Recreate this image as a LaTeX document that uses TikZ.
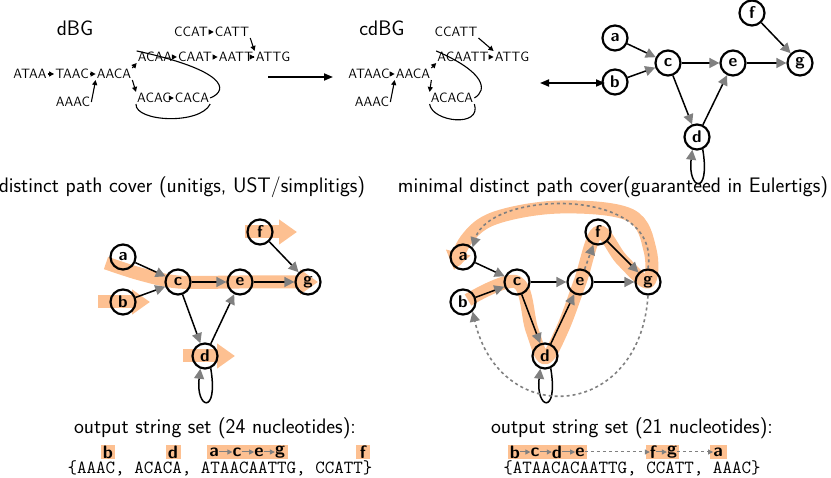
\documentclass[tikz,border=0pt]{standalone}
\usetikzlibrary{arrows.meta}
\definecolor{hl}{RGB}{253,192,145}
\begin{document}
\begin{tikzpicture}[x=1pt,y=-1pt,
  kmer/.style={font=\sffamily\fontsize{13.5}{14}\selectfont,inner sep=1pt},
  vtx/.style={circle,draw,line width=2.2pt,minimum size=25pt,inner sep=0pt,font=\sffamily\bfseries\fontsize{17}{17}\selectfont},
  ed/.style={line width=1.5pt,-{Triangle[color=gray,length=10pt,width=10pt]}},
  ked/.style={line width=1.1pt,-{Triangle[length=5pt,width=5pt]}},
  jump/.style={gray,line width=1.6pt,dashed,-{Triangle[length=10pt,width=10pt]}},
  hlp/.style={hl,line width=13pt,-{Triangle[length=18pt,width=24pt]}},
  ttl/.style={font=\sffamily\fontsize{21}{24}\selectfont},
  lab/.style={inner sep=0pt,font=\sffamily\bfseries\fontsize{18}{18}\selectfont},
  sm/.style={gray,line width=1pt,-{Triangle[length=5pt,width=5pt]}},
  smd/.style={gray,line width=1pt,dashed,-{Triangle[length=5pt,width=5pt]}}]
\useasboundingbox (0,0) rectangle (831,478);
% ---- dBG
\node[font=\sffamily\fontsize{21}{21}\selectfont] (t1) at (75,28) {dBG};
\node[kmer] (k1) at (30,74) {ATAA};
\node[kmer] (k2) at (72,74) {TAAC};
\node[kmer] (k3) at (114,74) {AACA};
\node[kmer] (k4) at (73,102) {AAAC};
\node[kmer] (k5) at (155,57) {ACAA};
\node[kmer] (k6) at (195,57) {CAAT};
\node[kmer] (k7) at (236,57) {AATT};
\node[kmer] (k8) at (273,57) {ATTG};
\node[kmer] (k9) at (191,32) {CCAT};
\node[kmer] (k10) at (232,32) {CATT};
\node[kmer] (k11) at (154,98) {ACAC};
\node[kmer] (k12) at (192,98) {CACA};
\draw[ked] (k1) -- (k2); \draw[ked] (k2) -- (k3);
\draw[ked] (k5) -- (k6); \draw[ked] (k6) -- (k7); \draw[ked] (k7) -- (k8);
\draw[ked] (k9) -- (k10); \draw[ked] (k10.south east) -- (k8.north west);
\draw[ked] (k11) -- (k12);
\draw[ked] (k4.east) -- (k3.south west);
\draw[ked] (k3.north east) -- (k5.south west);
\draw[ked] (k3.south east) -- (k11.north west);
\draw[line width=1.1pt] (k12.east) .. controls (230,90) and (225,70) .. (k5.north west);
\draw[line width=1.1pt] (k12.south east) .. controls (200,125) and (135,122) .. (k11.south west);
\draw[line width=1.8pt,-{Triangle[length=9pt,width=7pt]}] (268,77) -- (333,77);
% ---- cdBG
\node[font=\sffamily\fontsize{21}{21}\selectfont] (t2) at (382,28) {cdBG};
\node[kmer] (c1) at (369,74) {ATAAC};
\node[kmer] (c2) at (413,74) {AACA};
\node[kmer] (c3) at (372,102) {AAAC};
\node[kmer] (c4) at (463,57) {ACAATT};
\node[kmer] (c5) at (512,57) {ATTG};
\node[kmer] (c6) at (456,32) {CCATT};
\node[kmer] (c7) at (452,98) {ACACA};
\draw[ked] (c1) -- (c2); \draw[ked] (c4) -- (c5);
\draw[ked] (c6.south east) -- (c5.north west);
\draw[ked] (c3.east) -- (c2.south west);
\draw[ked] (c2.north east) -- (c4.south west);
\draw[ked] (c2.south east) -- (c7.north west);
\draw[line width=1.1pt] (c7.east) .. controls (488,90) and (485,72) .. (c4.north west);
\draw[line width=1.1pt] (c7.south east) .. controls (482,128) and (432,122) .. (c7.south west);
\draw[line width=1.8pt,{Triangle[length=9pt,width=7pt]}-{Triangle[length=9pt,width=7pt]}] (540,83) -- (605,83);
% ---- graph top right
\node[vtx] (a) at (615,38) {a};
\node[vtx] (b) at (615,82) {b};
\node[vtx] (c) at (668,63) {c};
\node[vtx] (e) at (733,63) {e};
\node[vtx] (g) at (800,63) {g};
\node[vtx] (f) at (752,13) {f};
\node[vtx] (d) at (697,137) {d};
\draw[ed] (a) -- (c); \draw[ed] (b) -- (c); \draw[ed] (c) -- (e);
\draw[ed] (e) -- (g); \draw[ed] (f) -- (g); \draw[ed] (c) -- (d); \draw[ed] (d) -- (e);
\draw[ed] (d.-65) .. controls +(8,48) and +(-5,40) .. (d.-110);
\node[ttl] (h1) at (182,187) {distinct path cover (unitigs, UST/simplitigs)};
\node[ttl] (h2) at (613,187) {minimal distinct path cover(guaranteed in Eulertigs)};
% ---- bottom left
\draw[hlp] plot[smooth] coordinates {(106,263) (140,274) (178,282) (240,282) (318,282)};
\draw[hlp] (98,302) -- (150,302);
\draw[hlp] (183,356) -- (235,356);
\draw[hlp] (245,232) -- (297,232);
\node[vtx] (a2) at (123,257) {a};
\node[vtx] (b2) at (123,302) {b};
\node[vtx] (c2) at (178,282) {c};
\node[vtx] (e2) at (240,282) {e};
\node[vtx] (g2) at (308,282) {g};
\node[vtx] (f2) at (260,232) {f};
\node[vtx] (d2) at (205,356) {d};
\draw[ed] (a2) -- (c2); \draw[ed] (b2) -- (c2); \draw[ed] (c2) -- (e2);
\draw[ed] (e2) -- (g2); \draw[ed] (f2) -- (g2); \draw[ed] (c2) -- (d2); \draw[ed] (d2) -- (e2);
\draw[ed] (d2.-65) .. controls +(8,48) and +(-5,40) .. (d2.-110);
% ---- bottom right
\draw[hl,line width=13pt,line join=round,-{Triangle[length=18pt,width=24pt]}] plot[smooth,tension=0.6] coordinates {(468,300) (517,282) (532,330) (545,358) (562,330) (580,282) (598,232) (622,260) (648,282) (650,250) (630,215) (560,207) (495,218) (466,240) (454,270)};
\node[vtx] (a3) at (463,257) {a};
\node[vtx] (b3) at (463,302) {b};
\node[vtx] (c3) at (517,282) {c};
\node[vtx] (e3) at (580,282) {e};
\node[vtx] (g3) at (648,282) {g};
\node[vtx] (f3) at (598,232) {f};
\node[vtx] (d3) at (545,356) {d};
\draw[ed] (a3) -- (c3); \draw[ed] (b3) -- (c3); \draw[ed] (c3) -- (e3);
\draw[ed] (e3) -- (g3); \draw[ed] (f3) -- (g3); \draw[ed] (c3) -- (d3); \draw[ed] (d3) -- (e3);
\draw[ed] (d3.-65) .. controls +(8,48) and +(-5,40) .. (d3.-110);
\draw[jump] (e3) -- (f3);
\draw[jump] (g3.north) .. controls (662,185) and (490,190) .. (a3.north east);
\draw[jump] (g3.south) .. controls (640,420) and (500,430) .. (b3.south east);
% ---- outputs
\node[ttl] (o1) at (215,428) {output string set (24 nucleotides):};
\node[font=\ttfamily\fontsize{18.5}{18.5}\selectfont] (s1) at (220,468) {\{AAAC, ACACA, ATAACAATTG, CCATT\}};
\fill[hl] (101,445) rectangle (115,459);
\fill[hl] (166,445) rectangle (181,459);
\fill[hl] (207,445) rectangle (288,459);
\fill[hl] (356,445) rectangle (370,459);
\node[lab] (lb) at (108,452) {b};
\node[lab] (ld) at (173,452) {d};
\node[lab] (x1) at (214,452) {a};
\node[lab] (x2) at (237,452) {c};
\node[lab] (x3) at (259,452) {e};
\node[lab] (x4) at (280,452) {g};
\draw[sm] (x1) -- (x2); \draw[sm] (x2) -- (x3); \draw[sm] (x3) -- (x4);
\node[lab] (lf) at (363,452) {f};
\node[ttl] (o2) at (632,428) {output string set (21 nucleotides):};
\node[font=\ttfamily\fontsize{18.5}{18.5}\selectfont] (s2) at (632,468) {\{ATAACACAATTG, CCATT, AAAC\}};
\fill[hl] (508,445) rectangle (587,459);
\fill[hl] (646,445) rectangle (679,459);
\fill[hl] (710,445) rectangle (727,459);
\node[lab] (y1) at (515,452) {b};
\node[lab] (y2) at (535,452) {c};
\node[lab] (y3) at (557,452) {d};
\node[lab] (y4) at (580,452) {e};
\draw[sm] (y1) -- (y2); \draw[sm] (y2) -- (y3); \draw[sm] (y3) -- (y4);
\node[lab] (y5) at (653,452) {f};
\node[lab] (y6) at (672,452) {g};
\draw[sm] (y5) -- (y6);
\node[lab] (y7) at (718,452) {a};
\draw[smd] (y4) -- (y5);
\draw[smd] (y6) -- (y7);
\end{tikzpicture}
\end{document}
